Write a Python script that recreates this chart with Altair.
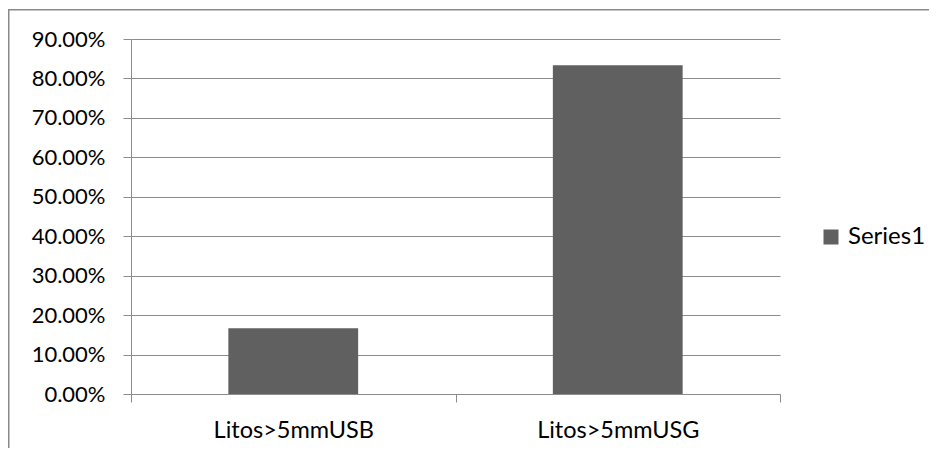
import altair as alt
import pandas as pd

categories = ["Litos>5mmUSB", "Litos>5mmUSG"]
values = [0.1667, 0.8333]
series = ["Series1", "Series1"]
y_ticks = [0.0, 0.1, 0.2, 0.3, 0.4, 0.5, 0.6, 0.7, 0.8, 0.9]

df = pd.DataFrame({"category": categories, "value": values, "series": series})

FONT = "Lato"
FS = 22
GRID = "#8c8c8c"
W, H = 649, 355
PAD = {"left": 123, "top": 31, "right": 149, "bottom": 54}

bars = alt.Chart(df).mark_bar(width=alt.RelativeBandSize(0.4), color="#606060").encode(
    x=alt.X(
        "category:N",
        sort=categories,
        title=None,
        scale=alt.Scale(paddingInner=0, paddingOuter=0),
        axis=alt.Axis(
            tickBand="extent", labelAngle=0, labelFont=FONT, labelFontSize=23.5,
            labelColor="black", labelPadding=16, tickSize=8, tickColor=GRID,
            domainColor=GRID, grid=False,
        ),
    ),
    y=alt.Y(
        "value:Q",
        title=None,
        scale=alt.Scale(domain=[0, 0.9], nice=False),
        axis=alt.Axis(
            values=y_ticks, format=".2%", labelFont=FONT, labelFontSize=FS,
            labelColor="black", labelPadding=18, tickSize=8, tickColor=GRID,
            domainColor=GRID, gridColor=GRID, grid=True,
        ),
    ),
    color=alt.Color(
        "series:N",
        scale=alt.Scale(range=["#606060"]),
        legend=alt.Legend(
            title=None, orient="none", legendX=688, legendY=186, padding=0,
            symbolType="square", symbolSize=225, symbolStrokeWidth=0,
            labelFont=FONT, labelFontSize=24, labelColor="black", labelOffset=5,
        ),
    ),
)

frame_src = pd.DataFrame({"f": [0]})
top_edge = alt.Chart(frame_src).mark_rule(stroke="#898989", strokeWidth=1.5).encode(
    x=alt.value(-PAD["left"]),
    x2=alt.value(W + PAD["right"] + 20),
    y=alt.value(-PAD["top"] + 1.75),
)
left_edge = alt.Chart(frame_src).mark_rule(stroke="#898989", strokeWidth=1.5).encode(
    x=alt.value(-PAD["left"] + 0.75),
    y=alt.value(-PAD["top"] + 1),
    y2=alt.value(H + PAD["bottom"] + 20),
)

chart = alt.layer(bars, top_edge, left_edge).properties(
    width=W, height=H, padding=PAD,
    autosize=alt.AutoSizeParams(type="none"),
    background="white",
).configure_view(stroke=None)

chart.save("out.html", embed_options={"renderer": "svg", "actions": False})
